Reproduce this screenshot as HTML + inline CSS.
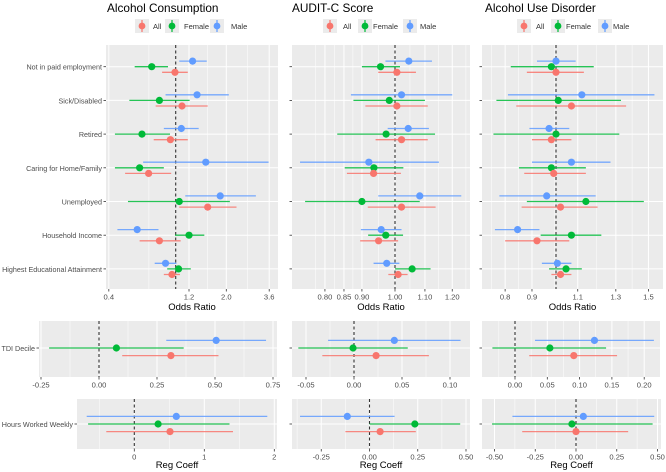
<!DOCTYPE html>
<html><head><meta charset="utf-8">
<style>
body{margin:0;background:#fff;}
svg{display:block;font-family:"Liberation Sans",Arial,sans-serif;}
</style></head>
<body>
<svg id="chart" width="666" height="472" viewBox="0 0 666 472" xmlns="http://www.w3.org/2000/svg"></svg>
<script>
// ---------- DATA ----------
const rowLabels = ["Not in paid employment","Sick/Disabled","Retired","Caring for Home/Family","Unemployed","Household Income","Highest Educational Attainment"];
const groups = ["All","Female","Male"];
// Alcohol Consumption odds ratios [est, lo, hi]
const acAll  = [[0.99,0.83,1.18],[1.09,0.76,1.55],[0.93,0.74,1.18],[0.69,0.50,0.94],[1.55,1.05,2.30],[0.80,0.61,1.07],[0.95,0.85,1.06]];
const acFem  = [[0.72,0.57,0.90],[0.80,0.53,1.21],[0.63,0.435,0.925],[0.61,0.435,0.85],[1.05,0.52,2.10],[1.20,0.99,1.48],[1.04,0.89,1.23]];
const acMale = [[1.26,1.05,1.53],[1.34,0.87,2.07],[1.08,0.85,1.37],[1.51,0.64,3.57],[1.84,1.14,3.0],[0.59,0.45,0.79],[0.87,0.75,1.01]];
// AUDIT-C Score odds ratios
const auAll  = [[1.006,0.948,1.069],[1.006,0.91,1.11],[1.021,0.94,1.11],[0.934,0.858,1.019],[1.021,0.917,1.138],[0.949,0.895,1.01],[1.01,0.979,1.041]];
const auFem  = [[0.955,0.90,1.016],[0.982,0.876,1.10],[0.972,0.832,1.136],[0.935,0.852,1.027],[0.90,0.751,1.082],[0.971,0.918,1.026],[1.056,1.0,1.12]];
const auMale = [[1.045,0.97,1.125],[1.021,0.869,1.20],[1.043,0.977,1.114],[0.92,0.739,1.15],[1.082,0.948,1.235],[0.957,0.897,1.021],[0.974,0.934,1.014]];
// Alcohol Use Disorder odds ratios
const udAll  = [[1.0,0.88,1.13],[1.07,0.84,1.36],[0.98,0.90,1.07],[0.99,0.87,1.14],[1.02,0.86,1.20],[0.92,0.80,1.06],[1.02,0.98,1.07]];
const udFem  = [[0.98,0.82,1.18],[1.01,0.77,1.33],[1.0,0.76,1.32],[0.98,0.85,1.14],[1.14,0.88,1.47],[1.07,0.935,1.22],[1.045,0.97,1.12]];
const udMale = [[1.0,0.92,1.09],[1.12,0.81,1.54],[0.97,0.89,1.06],[1.07,0.90,1.27],[0.96,0.78,1.19],[0.845,0.765,0.93],[1.006,0.94,1.07]];
// TDI Decile regression coeffs [All, Female, Male] each [est, lo, hi]
const tdiAC = [[0.31,0.10,0.515],[0.075,-0.215,0.365],[0.505,0.29,0.72]];
const tdiAU = [[0.023,-0.033,0.078],[-0.001,-0.058,0.056],[0.042,-0.027,0.111]];
const tdiUD = [[0.091,0.022,0.158],[0.054,-0.035,0.141],[0.123,0.031,0.215]];
// Hours Worked Weekly regression coeffs
const hrsAC = [[0.51,-0.40,1.41],[0.34,-0.66,1.36],[0.60,-0.68,1.90]];
const hrsAU = [[0.055,-0.125,0.24],[0.235,0.0,0.47],[-0.115,-0.36,0.13]];
const hrsUD = [[0.0,-0.33,0.32],[-0.025,-0.515,0.47],[0.045,-0.39,0.48]];
// tick labels
const ticksAC = [0.4,1.2,2.0,3.6], ticksACLab = ["0.4","1.2","2.0","3.6"];
const ticksAU = [0.8,0.85,0.9,1.0,1.1,1.2], ticksAULab = ["0.80","0.85","0.90","1.00","1.10","1.20"];
const ticksUD = [0.8,0.9,1.1,1.3,1.5], ticksUDLab = ["0.8","0.9","1.1","1.3","1.5"];
const ticksTdiAC = [-0.25,0,0.25,0.5,0.75], ticksTdiACLab=["-0.25","0.00","0.25","0.50","0.75"];
const ticksTdiAU = [-0.05,0,0.05,0.10], ticksTdiAULab=["-0.05","0.00","0.05","0.10"];
const ticksTdiUD = [0,0.05,0.10,0.15,0.20], ticksTdiUDLab=["0.00","0.05","0.10","0.15","0.20"];
const ticksHrsAC = [0,1,2], ticksHrsACLab=["0","1","2"];
const ticksHrsAU = [-0.25,0,0.25,0.5], ticksHrsAULab=["-0.25","0.00","0.25","0.50"];
const ticksHrsUD = [-0.5,-0.25,0,0.25,0.5], ticksHrsUDLab=["-0.50","-0.25","0.00","0.25","0.50"];

// ---------- DRAWING ----------
const NS="http://www.w3.org/2000/svg";
const svg=document.getElementById('chart');
const colors={All:"#F8766D",Female:"#00BA38",Male:"#619CFF"};
function mk(tag,attrs,parent){const e=document.createElementNS(NS,tag);for(const k in attrs)e.setAttribute(k,attrs[k]);(parent||svg).appendChild(e);return e;}
function txt(s,attrs,parent){const e=mk('text',attrs,parent);e.textContent=s;return e;}

function panel(opt){
  const g=mk('g',{});
  
  
  const bg=mk('rect',{x:opt.x0,y:opt.y0,width:opt.x1-opt.x0,height:opt.y1-opt.y0,fill:"#EBEBEB"},g);
  
  
  const tp=opt.ticks.map(opt.sx);
  const minors=[];
  for(let i=0;i<tp.length-1;i++)minors.push((tp[i]+tp[i+1])/2);
  if(tp.length>1){const d0=(tp[1]-tp[0])/2,d1=(tp[tp.length-1]-tp[tp.length-2])/2;minors.push(tp[0]-d0);minors.push(tp[tp.length-1]+d1);}
  minors.forEach(p=>{if(p>opt.x0&&p<opt.x1){const l=mk('line',{x1:p,x2:p,y1:opt.y0,y2:opt.y1,stroke:"#fff","stroke-width":0.5},g);}});
  tp.forEach((p,i)=>{
    if(p>=opt.x0-0.5&&p<=opt.x1+0.5){const l=mk('line',{x1:p,x2:p,y1:opt.y0,y2:opt.y1,stroke:"#fff","stroke-width":1},g);
      }
    mk('line',{x1:p,x2:p,y1:opt.y1,y2:opt.y1+2.5,stroke:"#333","stroke-width":0.8},g);
    const t=txt(opt.tickLabels[i],{x:p,y:opt.y1+10.5,"font-size":7.6,fill:"#4D4D4D","text-anchor":"middle"},g);
    
  });
  opt.rowsY.forEach((y,i)=>{
    const l=mk('line',{x1:opt.x0,x2:opt.x1,y1:y,y2:y,stroke:"#fff","stroke-width":1},g);
    
    mk('line',{x1:opt.x0-2.5,x2:opt.x0,y1:y,y2:y,stroke:"#333","stroke-width":0.8},g);
    if(opt.rowLabels){const t=txt(opt.rowLabels[i],{x:opt.x0-4,y:y+3,"font-size":7.2,fill:"#4D4D4D","text-anchor":"end"},g);
      }
  });
  const rx=opt.sx(opt.ref);
  const rl=mk('line',{x1:rx,x2:rx,y1:opt.y0,y2:opt.y1,stroke:"#333","stroke-width":1.1,"stroke-dasharray":"3,2.5"},g);
  
  opt.series.forEach(s=>{
    s.data.forEach((d,i)=>{
      const y=opt.rowsY[i]+s.off;
      const l=mk('line',{x1:Math.max(opt.x0,opt.sx(d[1])),x2:Math.min(opt.x1,opt.sx(d[2])),y1:y,y2:y,stroke:colors[s.group],"stroke-width":1.3,"stroke-opacity":0.85},g);
      
      const c=mk('circle',{cx:opt.sx(d[0]),cy:y,r:3.6,fill:colors[s.group]},g);
      
    });
  });
  if(opt.xTitle){const t=txt(opt.xTitle,{x:(opt.x0+opt.x1)/2,y:opt.xTitleY,"font-size":9.5,fill:"#000","text-anchor":"middle"},g);
    }
  return g;
}

function legend(keys,y){
  const g=mk('g',{});
  
  
  keys.forEach(k=>{
    const r=mk('rect',{x:k.kx,y:y-7,width:14,height:14,fill:"#EBEBEB"},g);
    
    mk('line',{x1:k.kx+7,x2:k.kx+7,y1:y-6,y2:y+6,stroke:colors[k.g],"stroke-width":1.2},g);
    mk('circle',{cx:k.kx+7,cy:y,r:3.4,fill:colors[k.g]},g);
    const t=txt(k.g,{x:k.tx,y:y+3,"font-size":7.5,fill:"#333"},g);
    
  });
}

function title(s,x){const t=txt(s,{x:x,y:12,"font-size":11.8,fill:"#000"});}

const topRows=rowLabels.map((_,i)=>66.7+i*33.7);
const offTop={All:5.6,Female:0,Male:-5.6};
const offBot={All:7.6,Female:0,Male:-7.6};
function ser(a,f,m,off){return [{group:"Male",data:m,off:off.Male},{group:"Female",data:f,off:off.Female},{group:"All",data:a,off:off.All}];}
function rowify(arr){return [[arr[0]],[arr[1]],[arr[2]]];}

title("Alcohol Consumption",107);
title("AUDIT-C Score",292);
title("Alcohol Use Disorder",485);
legend([{g:"All",kx:135,tx:153},{g:"Female",kx:165,tx:184},{g:"Male",kx:210,tx:231}],26);
legend([{g:"All",kx:323,tx:343},{g:"Female",kx:358,tx:373},{g:"Male",kx:403,tx:420}],26);
legend([{g:"All",kx:517,tx:536},{g:"Female",kx:551,tx:566},{g:"Male",kx:598,tx:613}],26);

panel({name:"alcohol-consumption-panel",x0:106,x1:278,y0:45,y1:289,sx:v=>175.7+73*Math.log(v),ticks:ticksAC,tickLabels:ticksACLab,rowsY:topRows,rowLabels:rowLabels,ref:1,series:ser(acAll,acFem,acMale,offTop),xTitle:"Odds Ratio",xTitleY:310});
panel({name:"audit-c-panel",x0:292,x1:470,y0:45,y1:289,sx:v=>395+314*Math.log(v),ticks:ticksAU,tickLabels:ticksAULab,rowsY:topRows,ref:1,series:ser(auAll,auFem,auMale,offTop),xTitle:"Odds Ratio",xTitleY:310});
panel({name:"alcohol-use-disorder-panel",x0:482,x1:663,y0:45,y1:289,sx:v=>556+228*Math.log(v),ticks:ticksUD,tickLabels:ticksUDLab,rowsY:topRows,ref:1,series:ser(udAll,udFem,udMale,offTop),xTitle:"Odds Ratio",xTitleY:310});

panel({name:"tdi-consumption-panel",x0:39,x1:277,y0:321,y1:377,sx:v=>99+232*v,ticks:ticksTdiAC,tickLabels:ticksTdiACLab,rowsY:[348],rowLabels:["TDI Decile"],ref:0,series:ser(rowify(tdiAC)[0],rowify(tdiAC)[1],rowify(tdiAC)[2],offBot)});
panel({name:"tdi-auditc-panel",x0:292,x1:470,y0:321,y1:377,sx:v=>354+960*v,ticks:ticksTdiAU,tickLabels:ticksTdiAULab,rowsY:[348],ref:0,series:ser(rowify(tdiAU)[0],rowify(tdiAU)[1],rowify(tdiAU)[2],offBot)});
panel({name:"tdi-aud-panel",x0:482,x1:660,y0:321,y1:377,sx:v=>515+646*v,ticks:ticksTdiUD,tickLabels:ticksTdiUDLab,rowsY:[348],ref:0,series:ser(rowify(tdiUD)[0],rowify(tdiUD)[1],rowify(tdiUD)[2],offBot)});

panel({name:"hours-consumption-panel",x0:77,x1:277,y0:399,y1:449,sx:v=>134.3+70*v,ticks:ticksHrsAC,tickLabels:ticksHrsACLab,rowsY:[424],rowLabels:["Hours Worked Weekly"],ref:0,series:ser(rowify(hrsAC)[0],rowify(hrsAC)[1],rowify(hrsAC)[2],offBot),xTitle:"Reg Coeff",xTitleY:468});
panel({name:"hours-auditc-panel",x0:292,x1:470,y0:399,y1:449,sx:v=>369.5+193*v,ticks:ticksHrsAU,tickLabels:ticksHrsAULab,rowsY:[424],ref:0,series:ser(rowify(hrsAU)[0],rowify(hrsAU)[1],rowify(hrsAU)[2],offBot),xTitle:"Reg Coeff",xTitleY:468});
panel({name:"hours-aud-panel",x0:482,x1:661,y0:399,y1:449,sx:v=>576+163*v,ticks:ticksHrsUD,tickLabels:ticksHrsUDLab,rowsY:[424],ref:0,series:ser(rowify(hrsUD)[0],rowify(hrsUD)[1],rowify(hrsUD)[2],offBot),xTitle:"Reg Coeff",xTitleY:468});
</script>
</body></html>
